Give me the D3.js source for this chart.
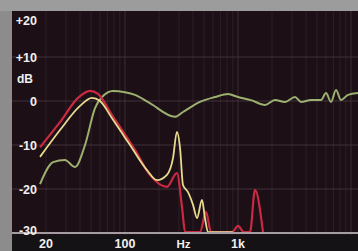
<!DOCTYPE html>
<html lang="en">
<head>
<meta charset="UTF-8" />
<title>Frequency response</title>
<style>
  body { margin: 0; background: #8c8c8c; }
  svg { display: block; }
  text { font-family: "Liberation Sans", Arial, sans-serif; font-weight: bold; fill: #f2f0ee; }
</style>
</head>
<body>
<svg id="chart"></svg>
<script src="https://cdn.jsdelivr.net/npm/d3@7"></script>
<script>
// [Hz, dB] points
var redData = [[17.7,-10.5],[26.6,-4.8],[38.4,0.7],[49,2.3],[57.7,1.6],[76.7,-3.2],[94.1,-6.6],
  [122.6,-11.1],[166,-16.8],[235,-19.5],[288,-16.4],[320,-24.3],[340,-29.8],[461,-29.8],
  [521,-25.2],[577,-29.8],[885,-29.8],[1000,-28.4],[1130,-29.8],[1277,-29.8],[1414,-20.2],[1664,-29.8]];
var yellowData = [[17.7,-12.7],[26.6,-6.6],[40,-1.1],[51,0.7],[60.1,0],[76.7,-3.9],[94.1,-7.3],
  [110.7,-10],[156.5,-15.7],[192,-18],[235,-16.8],[266,-13],[288,-7],[307,-10.7],[326,-19.1],
  [361,-20.7],[400,-23.6],[434,-26.6],[480,-22.5],[510,-26.6],[543,-29.8],[900,-29.8]];
var greenData = [[17.7,-18.9],[23.1,-13.9],[29.4,-13.4],[36.1,-15],[44.3,-10],[54.3,-1.6],[62.6,0.9],
  [78.3,2.3],[100,2],[122.6,1.4],[166,-0.5],[277,-3.6],[326,-2.5],[461,-0.2],[626,0.9],[816,1.6],
  [1000,0.9],[1303,0.2],[1733,-0.9],[2125,0.2],[2606,-0.2],[3194,0.9],[3610,-0.2],[4426,0.2],
  [5426,0.2],[6009,1.8],[6653,-0.2],[7367,2.5],[8156,0.2],[9408,1.4],[11534,1.8]];
var yTicks = [20, 10, 0, -10, -20, -30];
var yLabels = ["+20", "+10", "0", "-10", "-20", "-30"];
var xTicks = [20, 100, 1000];
var xLabels = ["20", "100", "1k"];

var w = 358, h = 251;
var svg = d3.select("#chart").attr("width", w).attr("height", h);

var x = d3.scaleLog().domain([10, 10000]).range([12, 351]);
var y = d3.scaleLinear().domain([-30, 20]).range([233, 13]);

// frame
svg.append("rect").attr("x", 0).attr("y", 0).attr("width", w).attr("height", 11).attr("fill", "#9c9c9c");
svg.append("rect").attr("x", 12).attr("y", 11).attr("width", w - 12).attr("height", h - 11).attr("fill", "#1c0f16");
svg.append("rect").attr("x", 12).attr("y", 235).attr("width", w - 12).attr("height", 16).attr("fill", "#141214");

svg.append("clipPath").attr("id", "plot")
  .append("rect").attr("x", 12).attr("y", 11).attr("width", w - 12).attr("height", 224);

// log grid
var gridFreqs = [];
[10, 100, 1000, 10000].forEach(function(d) {
  for (var i = 1; i < 10; i++) gridFreqs.push(d * i);
});
var g = svg.append("g").attr("clip-path", "url(#plot)");
g.selectAll("line.v")
  .data(gridFreqs.filter(function(d) { return x(d) > 13 && x(d) < w; }))
  .enter().append("line")
  .attr("x1", function(d) { return x(d); })
  .attr("x2", function(d) { return x(d); })
  .attr("y1", 11).attr("y2", 235)
  .attr("stroke", function(d) { return String(d)[0] === "1" ? "#382831" : "#2b1d25"; })
  .attr("stroke-width", 1.2);
g.selectAll("line.h")
  .data([10, 0, -10, -20])
  .enter().append("line")
  .attr("x1", 12).attr("x2", w)
  .attr("y1", function(d) { return y(d); })
  .attr("y2", function(d) { return y(d); })
  .attr("stroke", "#42303a")
  .attr("stroke-width", 1.2);

var line = d3.line()
  .x(function(d) { return x(d[0]); })
  .y(function(d) { return y(d[1]); })
  .curve(d3.curveMonotoneX);

g.append("path").datum(greenData).attr("d", line)
  .attr("fill", "none").attr("stroke", "#9cb070").attr("stroke-width", 2);
g.append("path").datum(redData).attr("d", line)
  .attr("fill", "none").attr("stroke", "#c92a42").attr("stroke-width", 2.2);
g.append("path").datum(yellowData).attr("d", line)
  .attr("fill", "none").attr("stroke", "#e8da8e").attr("stroke-width", 1.8);

// -30 dB base line
svg.append("line")
  .attr("x1", 12).attr("x2", w)
  .attr("y1", y(-30)).attr("y2", y(-30))
  .attr("stroke", "#a49ca2").attr("stroke-width", 2);

// y labels
svg.selectAll("text.ylab")
  .data(yTicks)
  .enter().append("text")
  .attr("class", "ylab")
  .attr("x", 37)
  .attr("y", function(d) { return Math.min(Math.max(y(d), 20), 230); })
  .attr("dy", "0.36em")
  .attr("text-anchor", "end")
  .style("font-size", "12.5px")
  .text(function(d, i) { return yLabels[i]; });

svg.append("text")
  .attr("x", 25).attr("y", y(5)).attr("dy", "0.36em")
  .attr("text-anchor", "middle")
  .style("font-size", "12px")
  .text("dB");

// x labels
svg.selectAll("text.xlab")
  .data(xTicks)
  .enter().append("text")
  .attr("class", "xlab")
  .attr("x", function(d) { return x(d); })
  .attr("y", 248)
  .attr("text-anchor", "middle")
  .style("font-size", "12.5px")
  .text(function(d, i) { return xLabels[i]; });

svg.append("text")
  .attr("x", x(330)).attr("y", 248)
  .attr("text-anchor", "middle")
  .style("font-size", "11.5px")
  .text("Hz");
</script>
</body>
</html>
